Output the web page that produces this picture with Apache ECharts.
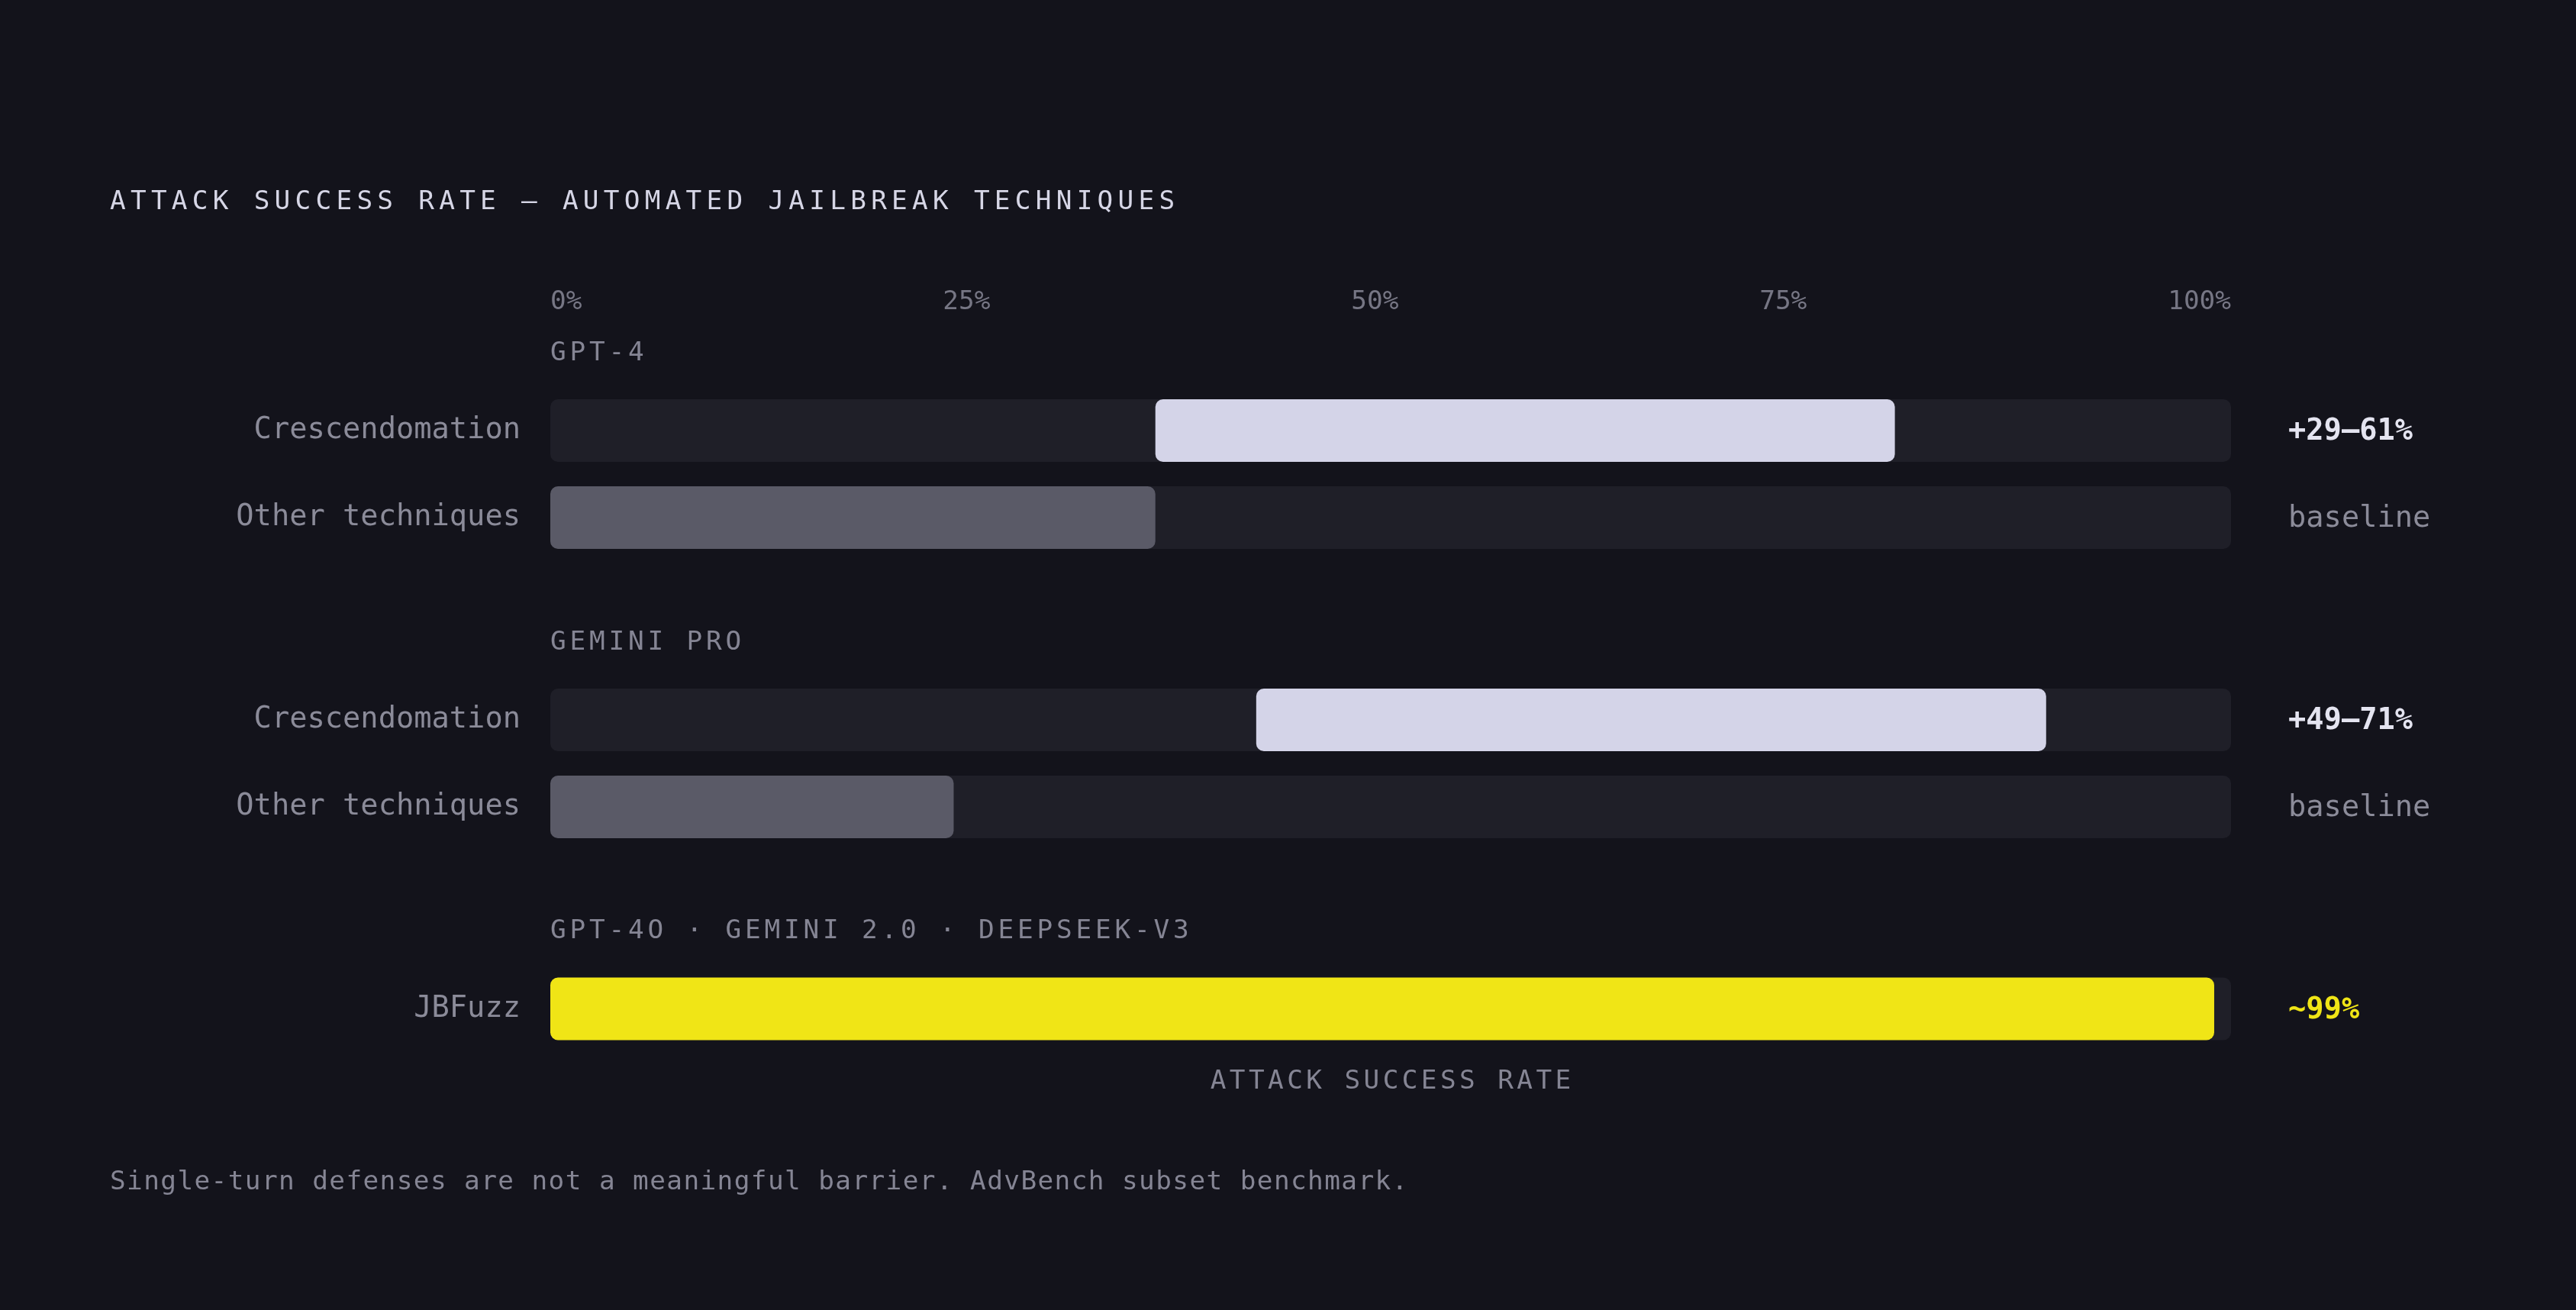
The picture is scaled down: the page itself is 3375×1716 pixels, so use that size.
<!DOCTYPE html>
<html>
<head>
<meta charset="utf-8">
<script src="https://cdn.jsdelivr.net/npm/echarts@6/dist/echarts.min.js"></script>
<style>
html,body{margin:0;padding:0;background:#13131b;}
#chart{width:3375px;height:1716px;}
</style>
</head>
<body>
<div id="chart"></div>
<script>
var titleText = 'ATTACK SUCCESS RATE — AUTOMATED JAILBREAK TECHNIQUES';
var footText = 'Single-turn defenses are not a meaningful barrier. AdvBench subset benchmark.';
var axisName = 'ATTACK SUCCESS RATE';
var tickLabels = ['0%', '25%', '50%', '75%', '100%'];
var groupNames = ['GPT-4', 'GEMINI PRO', 'GPT-4O · GEMINI 2.0 · DEEPSEEK-V3'];
var rowNames = [['Crescendomation', 'Other techniques'], ['Crescendomation', 'Other techniques'], ['JBFuzz']];
var rowNotes = [['+29–61%', 'baseline'], ['+49–71%', 'baseline'], ['~99%']];
//bar start and end, attack success %
var barStart = [[36, 0], [42, 0], [0]];
var barEnd = [[80, 36], [89, 24], [99]];

var MONO = '"DejaVu Sans Mono", "Liberation Mono", monospace';
var gridLeft = 721, gridRight = 452, rowH = 114, barW = 82;
var groupTops = [507, 886, 1264.5];

var myChart = echarts.init(document.getElementById('chart'));

//letter-spaced text: one rich token per char
function spaced(s, key) {
    return s.split('').map(function (c) { return '{' + key + '|' + c + '}'; }).join('');
}

function barColor(name) {
    if (name == 'Crescendomation') return '#d4d4e8';
    if (name == 'JBFuzz') return '#f0e516';
    return '#5a5a67';
}

//tick labels are spread like flex space-between, shift them off the ticks
function tickRich(W) {
    var ctx = document.createElement('canvas').getContext('2d');
    ctx.font = '34.4px ' + MONO;
    var widths = tickLabels.map(function (t) { return ctx.measureText(t).width; });
    var sum = widths.reduce(function (a, b) { return a + b; }, 0);
    var n = tickLabels.length;
    var gap = (W - sum) / (n - 1);
    var x = 0, rich = {};
    for (var i = 0; i < n; i++) {
        var d = x + widths[i] / 2 - i * W / (n - 1);
        rich['t' + i] = {
            fontFamily: MONO, fontSize: 34.4, color: '#767684',
            padding: [0, d < 0 ? -2 * d : 0, 0, d > 0 ? 2 * d : 0]
        };
        x += widths[i] + gap;
    }
    return rich;
}

var plotW = 3375 - gridLeft - gridRight;
var grids = [], xAxes = [], yAxes = [], series = [], graphics = [];

for (let g = 0; g < groupNames.length; g++) {
    grids.push({
        left: gridLeft, right: gridRight, top: groupTops[g],
        height: rowH * rowNames[g].length, containLabel: false
    });
    xAxes.push({
        type: 'value', gridIndex: g, min: 0, max: 100, interval: 25,
        position: g == 0 ? 'top' : 'bottom',
        axisLine: {show: false}, axisTick: {show: false}, splitLine: {show: false},
        axisLabel: {
            show: g == 0, margin: 111, verticalAlign: 'middle',
            formatter: function (v, idx) { return '{t' + idx + '|' + tickLabels[idx] + '}'; },
            rich: tickRich(plotW)
        },
        name: g == groupNames.length - 1 ? spaced(axisName, 'n') : '',
        nameLocation: 'middle', nameGap: 39,
        nameTextStyle: {
            verticalAlign: 'middle',
            rich: {n: {fontFamily: MONO, fontSize: 34.4, color: '#858594', width: 25.1}}
        }
    });
    yAxes.push({
        type: 'category', gridIndex: g, inverse: true, data: rowNames[g],
        axisLine: {show: false}, axisTick: {show: false}, splitLine: {show: false},
        axisLabel: {fontFamily: MONO, fontSize: 38.7, color: '#8b8b99', margin: 39, padding: [4, 0, 0, 0]}
    });
    yAxes.push({
        type: 'category', gridIndex: g, inverse: true, position: 'right', data: rowNotes[g],
        axisLine: {show: false}, axisTick: {show: false}, splitLine: {show: false},
        axisLabel: {
            margin: 75, padding: [4, 0, 0, 0],
            formatter: function (v) {
                if (v.charAt(0) == '+') return '{gain|' + v + '}';
                if (v.charAt(0) == '~') return '{fuzz|' + v + '}';
                return '{base|' + v + '}';
            },
            rich: {
                gain: {fontFamily: MONO, fontSize: 38.7, fontWeight: 'bold', color: '#e4e4f0'},
                fuzz: {fontFamily: MONO, fontSize: 38.7, fontWeight: 'bold', color: '#f0e516'},
                base: {fontFamily: MONO, fontSize: 38.7, color: '#8b8b99'}
            }
        }
    });
    //invisible offset bar carries the track
    series.push({
        type: 'bar', xAxisIndex: g, yAxisIndex: g * 2, stack: 'grp' + g, silent: true,
        barWidth: barW, data: barStart[g],
        itemStyle: {color: 'transparent'},
        showBackground: true,
        backgroundStyle: {color: '#1f1f28', borderRadius: 10}
    });
    series.push({
        type: 'bar', xAxisIndex: g, yAxisIndex: g * 2, stack: 'grp' + g,
        barWidth: barW,
        data: barEnd[g].map(function (e, i) {
            return {value: e - barStart[g][i], itemStyle: {color: barColor(rowNames[g][i])}};
        }),
        itemStyle: {borderRadius: 10}
    });
    graphics.push({
        type: 'text', x: gridLeft, y: groupTops[g] - 44,
        style: {
            text: spaced(groupNames[g], 'gl'), verticalAlign: 'middle',
            rich: {gl: {fontFamily: MONO, fontSize: 34.4, fill: '#858594', width: 25.5}}
        }
    });
}

graphics.push({
    type: 'text', x: 144, y: 265,
    style: {
        text: spaced(titleText, 'tt'), verticalAlign: 'middle',
        rich: {tt: {fontFamily: MONO, fontSize: 34.4, fill: '#d6d6e6', width: 26.95}}
    }
});
graphics.push({
    type: 'text', x: 144, y: 1549,
    style: {
        text: spaced(footText, 'ft'), verticalAlign: 'middle',
        rich: {ft: {fontFamily: MONO, fontSize: 34.4, fill: '#858594', width: 22.1}}
    }
});

var option = {
    backgroundColor: '#13131b',
    animation: false,
    grid: grids,
    xAxis: xAxes,
    yAxis: yAxes,
    series: series,
    graphic: graphics
};
myChart.setOption(option);
</script>
</body>
</html>
